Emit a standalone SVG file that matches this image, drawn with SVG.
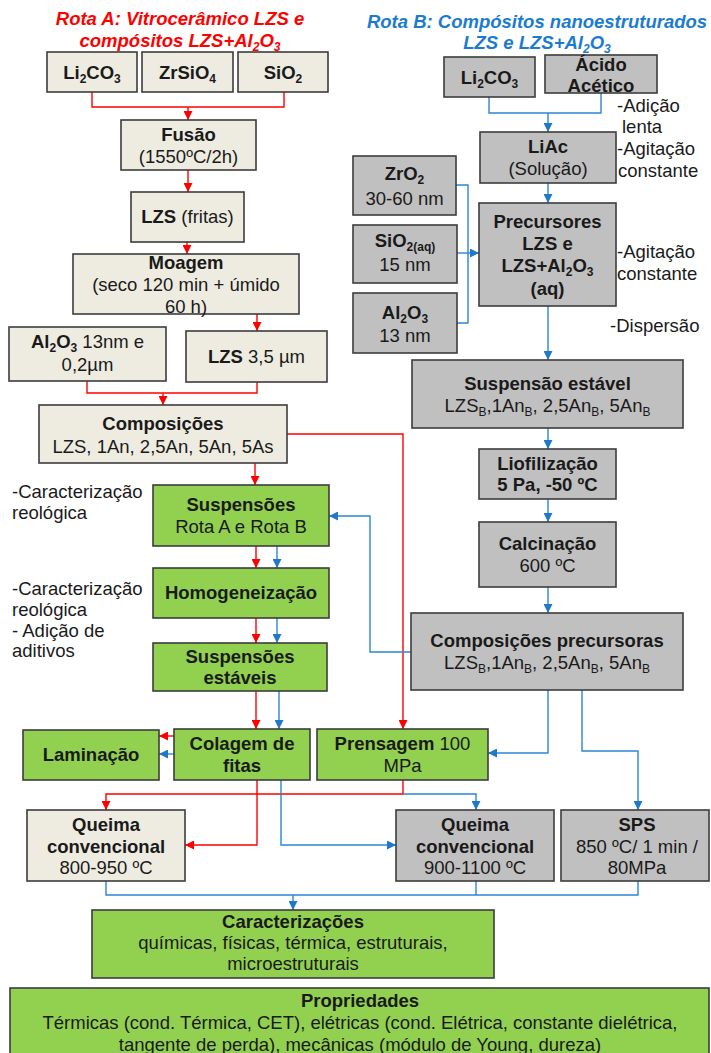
<svg xmlns="http://www.w3.org/2000/svg" width="711" height="1053" viewBox="0 0 711 1053">
<defs>
<marker id="ar" viewBox="0 0 10 10" refX="10" refY="5" markerWidth="9" markerHeight="9" markerUnits="userSpaceOnUse" orient="auto"><path d="M0,0 L10,5 L0,10 z" fill="#FF0000"/></marker>
<marker id="ab" viewBox="0 0 10 10" refX="10" refY="5" markerWidth="9" markerHeight="9" markerUnits="userSpaceOnUse" orient="auto"><path d="M0,0 L10,5 L0,10 z" fill="#1F78C8"/></marker>
</defs>
<style>
text{font-family:"Liberation Sans",Arial,sans-serif;font-size:18.5px;fill:#1a1a1a}
.c{text-anchor:middle}
.b{font-weight:bold}
.ti{font-weight:bold;font-style:italic}
.s{font-size:12px}
rect{stroke:#3C3C3C;stroke-width:1.6}
.be{fill:#EEECE1}
.gr{fill:#C0C0C0}
.gn{fill:#92D050}
.r{fill:none;stroke:#FF0000;stroke-width:1.4}
.bl{fill:none;stroke:#2B86D6;stroke-width:1.4}
.ra{marker-end:url(#ar)}
.ba{marker-end:url(#ab)}
</style>
<rect width="711" height="1053" fill="#FFFFFF" style="stroke:none"/>

<g id="titles">
<text class="c ti" x="180" y="25" style="fill:#FF0000">Rota A: Vitrocerâmico LZS e</text>
<text class="c ti" x="180" y="47" style="fill:#FF0000">compósitos LZS+Al<tspan class="s" dy="4">2</tspan><tspan dy="-4">O</tspan><tspan class="s" dy="4">3</tspan></text>
<text class="c ti" x="537" y="28" style="fill:#1B7CCF">Rota B: Compósitos nanoestruturados</text>
<text class="c ti" x="537" y="49" style="fill:#1B7CCF">LZS e LZS+Al<tspan class="s" dy="4">2</tspan><tspan dy="-4">O</tspan><tspan class="s" dy="4">3</tspan></text>
</g>

<g id="connectors">
<path class="r" d="M92,92 V107 H284 V92"/>
<path class="r ra" d="M188,107 V120"/>
<path class="r ra" d="M188,170 V192"/>
<path class="r ra" d="M187,242 V254"/>
<path class="r ra" d="M257,314 V331"/>
<path class="r" d="M87,381 V393 H257 V382"/>
<path class="r ra" d="M163,393 V405"/>
<path class="r ra" d="M287,434 H403 V729"/>
<path class="r ra" d="M255,463 V485"/>
<path class="r ra" d="M256,546 V568"/>
<path class="r ra" d="M256,618 V643"/>
<path class="r ra" d="M256,691 V729"/>
<path class="r ra" d="M177,736 H159"/>
<path class="r ra" d="M257,780 V845 H185"/>
<path class="r ra" d="M403,780 V794 H106 V810"/>

<path class="bl" d="M489,97 V113 H601 V93"/>
<path class="bl ba" d="M548,113 V132"/>
<path class="bl ba" d="M548,183 V203"/>
<path class="bl" d="M456,185 H468 V323 H457"/>
<path class="bl ba" d="M457,253 H479"/>
<path class="bl ba" d="M548,306 V360"/>
<path class="bl ba" d="M548,428 V449"/>
<path class="bl ba" d="M548,499 V522"/>
<path class="bl ba" d="M548,587 V613"/>
<path class="bl ba" d="M411,652 H370 V516 H329"/>
<path class="bl ba" d="M277,546 V568"/>
<path class="bl ba" d="M277,618 V643"/>
<path class="bl ba" d="M279,691 V729"/>
<path class="bl ba" d="M174,754 H159"/>
<path class="bl ba" d="M548,690 V753 H488"/>
<path class="bl ba" d="M582,690 V751 H638 V810"/>
<path class="bl ba" d="M281,780 V845 H396"/>
<path class="bl ba" d="M403,794 H476 V810"/>
<path class="bl" d="M106,881 V895 H638 V881"/>
<path class="bl" d="M476,881 V895"/>
<path class="bl ba" d="M293,895 V910"/>
</g>

<g id="a-li2co3"><rect class="be" x="47" y="52" width="90" height="40"/>
<text class="c b" x="92" y="79">Li<tspan class="s" dy="4">2</tspan><tspan dy="-4">CO</tspan><tspan class="s" dy="4">3</tspan></text></g>
<g id="a-zrsio4"><rect class="be" x="142" y="52" width="91" height="40"/>
<text class="c b" x="187.5" y="79">ZrSiO<tspan class="s" dy="4">4</tspan></text></g>
<g id="a-sio2"><rect class="be" x="238" y="52" width="90" height="40"/>
<text class="c b" x="283" y="79">SiO<tspan class="s" dy="4">2</tspan></text></g>
<g id="fusao"><rect class="be" x="121" y="120" width="135" height="50"/>
<text class="c b" x="188.5" y="141">Fusão</text>
<text class="c" x="188.5" y="163">(1550ºC/2h)</text></g>
<g id="lzs-fritas"><rect class="be" x="131" y="192" width="113" height="50"/>
<text class="c" x="187.5" y="223"><tspan class="b">LZS</tspan> (fritas)</text></g>
<g id="moagem"><rect class="be" x="73" y="254" width="226" height="60"/>
<text class="c b" x="186" y="269">Moagem</text>
<text class="c" x="186" y="291">(seco 120 min + úmido</text>
<text class="c" x="186" y="313">60 h)</text></g>
<g id="al2o3-a"><rect class="be" x="9" y="327" width="157" height="54"/>
<text class="c" x="87.5" y="348"><tspan class="b">Al</tspan><tspan class="s b" dy="4">2</tspan><tspan class="b" dy="-4">O</tspan><tspan class="s b" dy="4">3</tspan><tspan dy="-4"> 13nm e</tspan></text>
<text class="c" x="87.5" y="371">0,2µm</text></g>
<g id="lzs-35"><rect class="be" x="186" y="331" width="141" height="51"/>
<text class="c" x="256.5" y="363"><tspan class="b">LZS</tspan> 3,5 µm</text></g>
<g id="composicoes"><rect class="be" x="39" y="405" width="248" height="58"/>
<text class="c b" x="163" y="430">Composições</text>
<text class="c" x="163" y="453">LZS, 1An, 2,5An, 5An, 5As</text></g>
<g id="suspensoes"><rect class="gn" x="153" y="485" width="176" height="61"/>
<text class="c b" x="241" y="511">Suspensões</text>
<text class="c" x="241" y="533">Rota A e Rota B</text></g>
<g id="homogeneizacao"><rect class="gn" x="153" y="568" width="176" height="50"/>
<text class="c b" x="241" y="599">Homogeneização</text></g>
<g id="susp-estaveis"><rect class="gn" x="153" y="643" width="174" height="48"/>
<text class="c b" x="240" y="663">Suspensões</text>
<text class="c b" x="240" y="684">estáveis</text></g>
<g id="laminacao"><rect class="gn" x="23" y="730" width="136" height="50"/>
<text class="c b" x="91" y="761">Laminação</text></g>
<g id="colagem"><rect class="gn" x="174" y="729" width="136" height="51"/>
<text class="c b" x="242" y="750">Colagem de</text>
<text class="c b" x="242" y="772">fitas</text></g>
<g id="prensagem"><rect class="gn" x="317" y="729" width="171" height="51"/>
<text class="c" x="402.5" y="750"><tspan class="b">Prensagem</tspan> 100</text>
<text class="c" x="402.5" y="772">MPa</text></g>
<g id="queima-a"><rect class="be" x="27" y="810" width="158" height="71"/>
<text class="c b" x="106" y="831">Queima</text>
<text class="c b" x="106" y="853">convencional</text>
<text class="c" x="106" y="874">800-950 ºC</text></g>
<g id="queima-b"><rect class="gr" x="396" y="810" width="158" height="71"/>
<text class="c b" x="475" y="831">Queima</text>
<text class="c b" x="475" y="853">convencional</text>
<text class="c" x="475" y="874">900-1100 ºC</text></g>
<g id="sps"><rect class="gr" x="561" y="810" width="148" height="71"/>
<text class="c b" x="637" y="831">SPS</text>
<text class="c" x="637" y="853">850 ºC/ 1 min /</text>
<text class="c" x="637" y="874">80MPa</text></g>
<g id="caracterizacoes"><rect class="gn" x="92" y="910" width="402" height="68"/>
<text class="c b" x="293" y="928">Caracterizações</text>
<text class="c" x="293" y="949">químicas, físicas, térmica, estruturais,</text>
<text class="c" x="293" y="970">microestruturais</text></g>
<g id="propriedades"><rect class="gn" x="10" y="988" width="699" height="75"/>
<text class="c b" x="360" y="1007">Propriedades</text>
<text class="c" x="360" y="1029">Térmicas (cond. Térmica, CET), elétricas (cond. Elétrica, constante dielétrica,</text>
<text class="c" x="360" y="1051">tangente de perda), mecânicas (módulo de Young, dureza)</text></g>

<g id="b-li2co3"><rect class="gr" x="444" y="57" width="91" height="40"/>
<text class="c b" x="489.5" y="84">Li<tspan class="s" dy="4">2</tspan><tspan dy="-4">CO</tspan><tspan class="s" dy="4">3</tspan></text></g>
<g id="acido"><rect class="gr" x="545" y="55" width="112" height="38"/>
<text class="c b" x="601" y="71">Ácido</text>
<text class="c b" x="601" y="92">Acético</text></g>
<g id="liac"><rect class="gr" x="480" y="132" width="136" height="51"/>
<text class="c b" x="548" y="153">LiAc</text>
<text class="c" x="548" y="175">(Solução)</text></g>
<g id="zro2"><rect class="gr" x="353" y="156" width="103" height="59"/>
<text class="c b" x="404.5" y="180">ZrO<tspan class="s" dy="4">2</tspan></text>
<text class="c" x="404.5" y="205">30-60 nm</text></g>
<g id="sio2-aq"><rect class="gr" x="353" y="225" width="104" height="58"/>
<text class="c b" x="405" y="247">SiO<tspan class="s" dy="4">2(aq)</tspan></text>
<text class="c" x="405" y="271">15 nm</text></g>
<g id="al2o3-b"><rect class="gr" x="353" y="293" width="104" height="60"/>
<text class="c b" x="405" y="319">Al<tspan class="s" dy="4">2</tspan><tspan dy="-4">O</tspan><tspan class="s" dy="4">3</tspan></text>
<text class="c" x="405" y="342">13 nm</text></g>
<g id="precursores"><rect class="gr" x="479" y="203" width="137" height="103"/>
<text class="c b" x="547.5" y="228">Precursores</text>
<text class="c b" x="547.5" y="250">LZS e</text>
<text class="c b" x="547.5" y="272">LZS+Al<tspan class="s" dy="4">2</tspan><tspan dy="-4">O</tspan><tspan class="s" dy="4">3</tspan></text>
<text class="c b" x="547.5" y="295">(aq)</text></g>
<g id="suspensao-estavel"><rect class="gr" x="412" y="360" width="271" height="68"/>
<text class="c b" x="547.5" y="390">Suspensão estável</text>
<text class="c" x="547.5" y="412">LZS<tspan class="s" dy="4">B</tspan><tspan dy="-4">,1An</tspan><tspan class="s" dy="4">B</tspan><tspan dy="-4">, 2,5An</tspan><tspan class="s" dy="4">B</tspan><tspan dy="-4">, 5An</tspan><tspan class="s" dy="4">B</tspan></text></g>
<g id="liofilizacao"><rect class="gr" x="479" y="449" width="137" height="50"/>
<text class="c b" x="547.5" y="470">Liofilização</text>
<text class="c b" x="547.5" y="491">5 Pa, -50 ºC</text></g>
<g id="calcinacao"><rect class="gr" x="479" y="522" width="137" height="65"/>
<text class="c b" x="547.5" y="550">Calcinação</text>
<text class="c" x="547.5" y="572">600 ºC</text></g>
<g id="comp-precursoras"><rect class="gr" x="411" y="613" width="272" height="77"/>
<text class="c b" x="547" y="647">Composições precursoras</text>
<text class="c" x="547" y="669">LZS<tspan class="s" dy="4">B</tspan><tspan dy="-4">,1An</tspan><tspan class="s" dy="4">B</tspan><tspan dy="-4">, 2,5An</tspan><tspan class="s" dy="4">B</tspan><tspan dy="-4">, 5An</tspan><tspan class="s" dy="4">B</tspan></text></g>

<g id="labels">
<text x="617" y="112">-Adição</text>
<text x="622" y="133">lenta</text>
<text x="617" y="155">-Agitação</text>
<text x="618" y="177">constante</text>
<text x="617" y="258">-Agitação</text>
<text x="617" y="280">constante</text>
<text x="610" y="332">-Dispersão</text>
<text x="12" y="498">-Caracterização</text>
<text x="12" y="519">reológica</text>
<text x="12" y="595">-Caracterização</text>
<text x="12" y="616">reológica</text>
<text x="12" y="637">- Adição de</text>
<text x="12" y="657">aditivos</text>
</g>
</svg>
